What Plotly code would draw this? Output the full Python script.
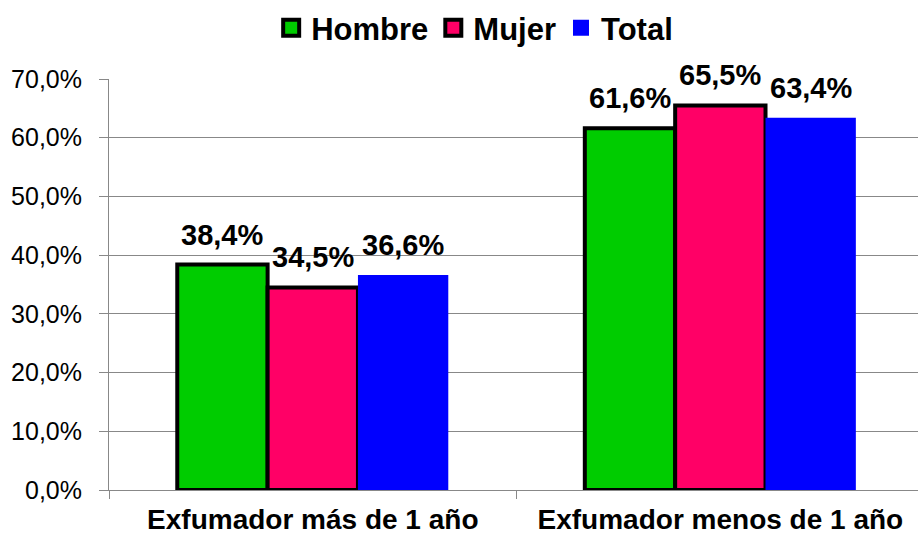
import plotly.graph_objects as go

categories = ["Exfumador más de 1 año", "Exfumador menos de 1 año"]
series_names = ["Hombre", "Mujer", "Total"]
hombre = [38.4, 61.6]
mujer = [34.5, 65.5]
total = [36.6, 63.4]
colors = ["#00CC00", "#FF0066", "#0000FF"]
y_ticks = [0, 10, 20, 30, 40, 50, 60, 70]
y_tick_labels = ["0,0%", "10,0%", "20,0%", "30,0%", "40,0%", "50,0%", "60,0%", "70,0%"]

FONT = "Liberation Sans, Arial, sans-serif"
BARGAP = 0.335
X_RANGE = [-0.5, 1.485]
W, H = 918, 538
ML, MT, MB = 109, 79, 48
PLOT_W = W - ML
PLOT_H = H - MT - MB
BAR_PX = PLOT_W / (X_RANGE[1] - X_RANGE[0]) * (1 - BARGAP) / 3

def fmt(v):
    return f"{v:.1f}%".replace(".", ",")

fig = go.Figure()
for i, (name, vals, col) in enumerate(zip(series_names, [hombre, mujer, total], colors)):
    outline = 0 if name == "Total" else 4
    fig.add_trace(go.Bar(
        name=name, x=categories, y=vals,
        marker=dict(color=col, line=dict(color="black", width=outline)),
        showlegend=False,
    ))
    for c, v in zip(categories, vals):
        fig.add_annotation(x=c, y=v, text=fmt(v), showarrow=False,
                           xshift=(i - 1) * BAR_PX, yshift=12, yanchor="bottom",
                           font=dict(family=FONT, size=29, color="black", weight="bold"))
# legend entries
for name, col in zip(series_names, colors):
    lw = 0 if name == "Total" else 4
    fig.add_trace(go.Scatter(
        name=name, x=[None], y=[None], mode="markers",
        marker=dict(symbol="square", size=18, color=col, line=dict(color="black", width=lw)),
        showlegend=True,
    ))

fig.update_layout(
    width=W, height=H,
    margin=dict(l=ML, r=0, t=MT, b=MB),
    plot_bgcolor="white", paper_bgcolor="white",
    barmode="group", bargap=BARGAP, bargroupgap=0,
    font=dict(family=FONT, color="black"),
    legend=dict(orientation="h", x=0.452, xanchor="center",
                y=1 + (MT - 1) / PLOT_H, yanchor="top",
                font=dict(size=31, weight="bold"), itemwidth=30,
                traceorder="normal", bgcolor="rgba(0,0,0,0)"),
    showlegend=True,
)
fig.update_yaxes(range=[0, 70], tickvals=y_ticks, ticktext=y_tick_labels,
                 showgrid=True, gridcolor="#888888", gridwidth=1,
                 showline=True, linecolor="#888888", linewidth=1,
                 ticks="outside", ticklen=9, tickcolor="#888888",
                 ticklabelstandoff=12,
                 tickfont=dict(size=25), zeroline=False, automargin=False)
fig.update_xaxes(range=X_RANGE,
                 showline=True, linecolor="#888888", linewidth=1,
                 ticks="outside", tickson="boundaries", ticklen=8, tickcolor="#888888",
                 ticklabelstandoff=4,
                 tickfont=dict(size=28, weight="bold"), automargin=False)

fig.write_html("out.html", config={"displayModeBar": False},
               post_script="document.body.style.margin='0';")
